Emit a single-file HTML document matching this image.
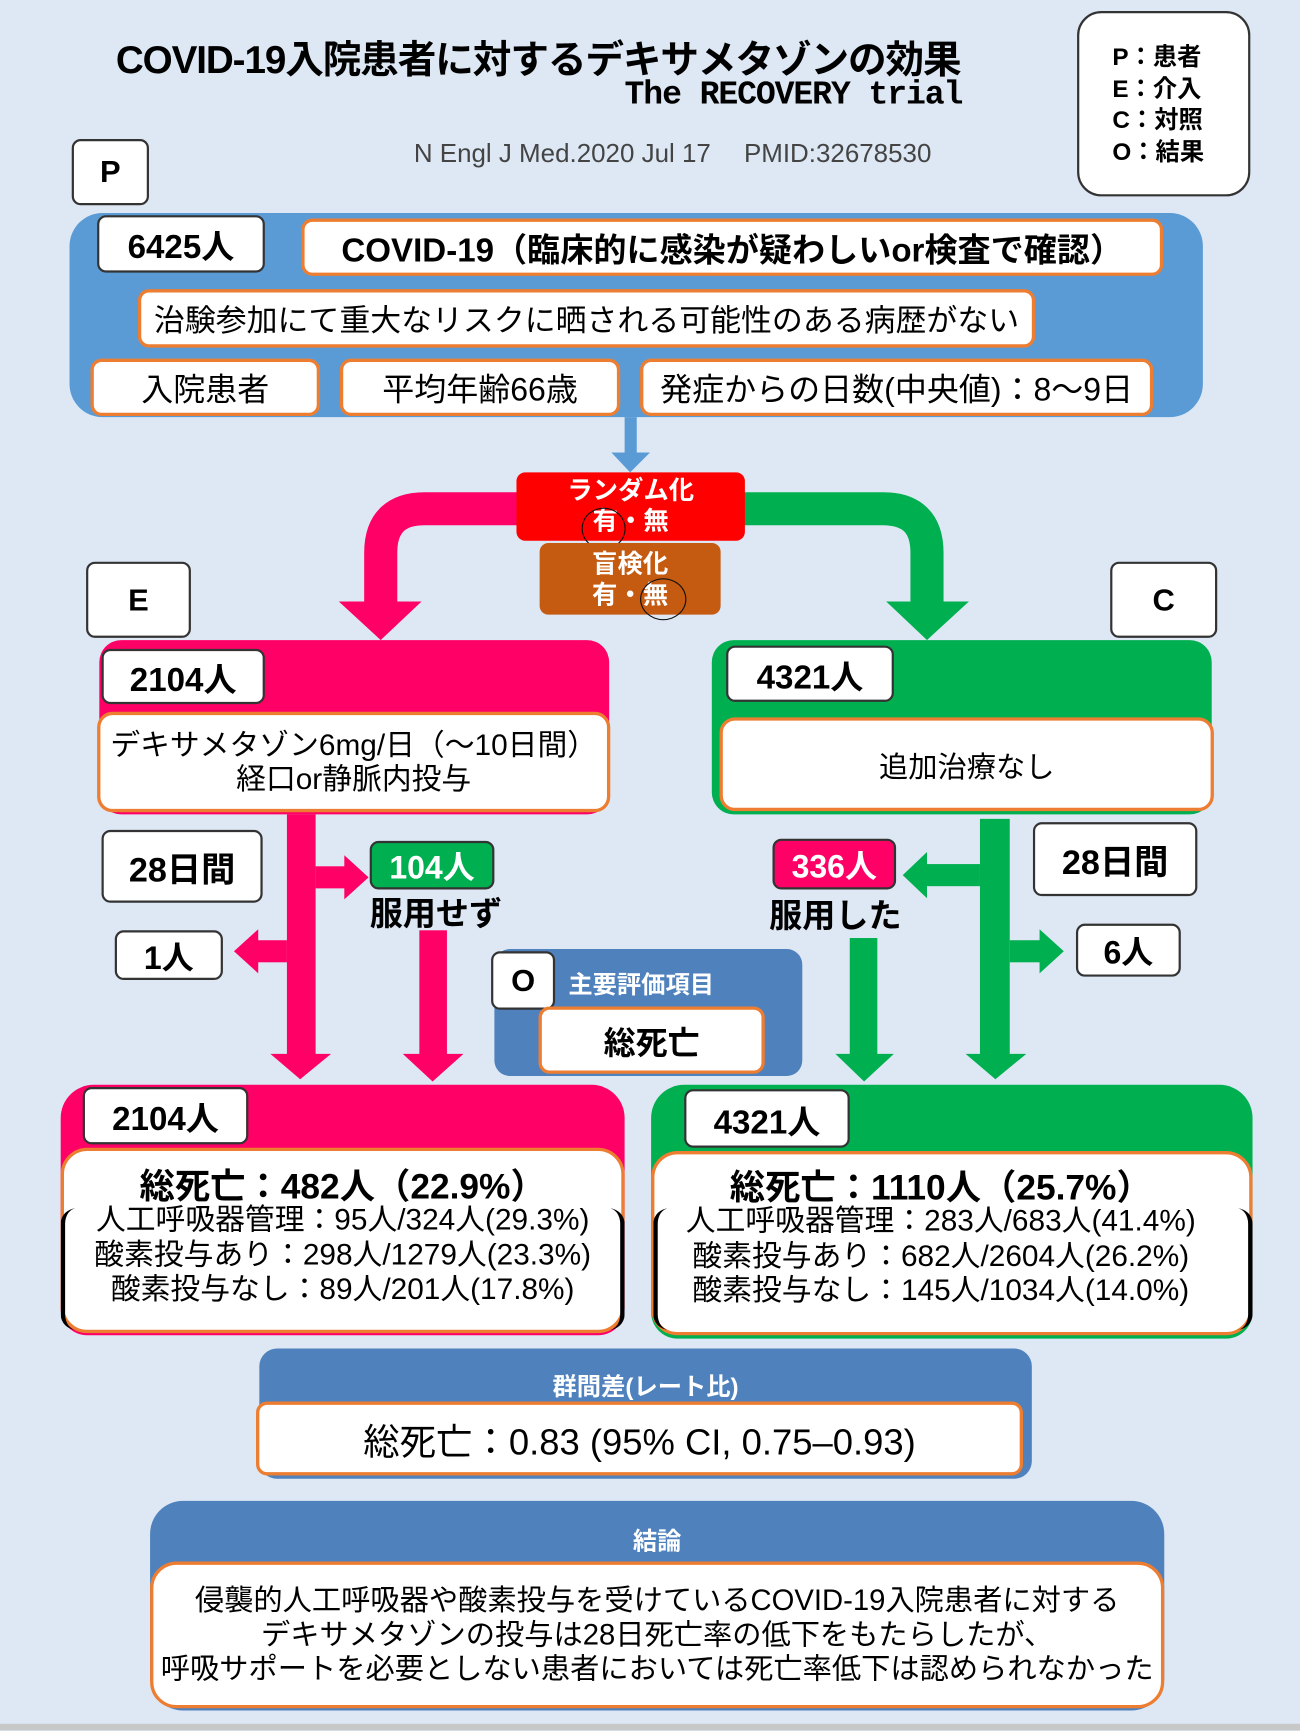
<!DOCTYPE html>
<html><head><meta charset="utf-8">
<style>
html,body{margin:0;padding:0;width:1300px;height:1731px;overflow:hidden;background:#dde8f4;}
#w{position:absolute;left:0;top:0;width:1178px;height:1568px;transform:scale(1.10356);transform-origin:0 0;font-family:"Liberation Sans","Noto Sans CJK JP",sans-serif;color:#000;}
.a{position:absolute;box-sizing:border-box;}
.wb{background:#fff;border:2px solid #333;border-radius:8px;display:flex;align-items:center;justify-content:center;font-weight:bold;white-space:nowrap;}
.ob{background:#fff;border:3px solid #ed7d31;border-radius:10px;display:flex;align-items:center;justify-content:center;text-align:center;white-space:nowrap;}
.t{position:absolute;white-space:nowrap;}
</style></head><body><div id="w">
<div class="t" style="left:105px;top:26px;font-size:35px;font-weight:bold;letter-spacing:-1px;">COVID-19入院患者に対するデキサメタゾンの効果</div>
<div class="t" style="left:560px;top:70px;width:312px;text-align:right;font-size:30px;font-weight:bold;font-family:'Liberation Mono',monospace;letter-spacing:-1px;">The RECOVERY trial</div>
<div class="t" style="left:375px;top:120px;font-size:23.5px;color:#444;">N Engl J Med.2020 Jul 17　 PMID:32678530</div>
<div class="a" style="left:976px;top:10px;width:157px;height:168px;background:#fff;border:2px solid #333;border-radius:22px;"></div>
<div class="t" style="left:1008px;top:38px;font-size:22px;font-weight:bold;line-height:28.5px;">P：患者<br>E：介入<br>C：対照<br>O：結果</div>
<div class="a wb" style="left:65px;top:126px;width:70px;height:60px;font-size:28px;">P</div>

<div class="a" style="left:63px;top:193px;width:1027px;height:185px;background:#5b9bd5;border-radius:30px;"></div>
<div class="a wb" style="left:88px;top:195px;width:152px;height:52px;font-size:30px;">6425人</div>
<div class="a ob" style="left:273px;top:198px;width:781px;height:52px;font-size:30px;font-weight:bold;">COVID-19（臨床的に感染が疑わしいor検査で確認）</div>
<div class="a ob" style="left:125px;top:262px;width:813px;height:53px;font-size:28px;">治験参加にて重大なリスクに晒される可能性のある病歴がない</div>
<div class="a ob" style="left:82px;top:325px;width:208px;height:52px;font-size:29px;">入院患者</div>
<div class="a ob" style="left:308px;top:325px;width:254px;height:52px;font-size:29px;">平均年齢66歳</div>
<div class="a ob" style="left:580px;top:325px;width:465px;height:52px;font-size:29px;">発症からの日数(中央値)：8～9日</div>

<svg class="a" style="left:0;top:0" width="1178" height="1568">
<rect x="566" y="378" width="11" height="34" fill="#5b9bd5"/>
<polygon points="554,410 589,410 571,428" fill="#5b9bd5"/>
<path d="M470,461 H385 Q345,461 345,501 V550" stroke="#ff0066" stroke-width="30" fill="none"/>
<polygon points="307,545 382,545 345,580" fill="#ff0066"/>
<path d="M672,461 H800 Q840,461 840,501 V550" stroke="#00b050" stroke-width="30" fill="none"/>
<polygon points="803,545 878,545 840,580" fill="#00b050"/>
<rect x="260" y="738" width="26" height="222" fill="#ff0066"/>
<polygon points="245,955 300,955 272,978" fill="#ff0066"/>
<rect x="286" y="785" width="30" height="20" fill="#ff0066"/>
<polygon points="312,775 312,815 334,795" fill="#ff0066"/>
<rect x="230" y="852" width="30" height="20" fill="#ff0066"/>
<polygon points="234,842 234,882 212,862" fill="#ff0066"/>
<rect x="380" y="843" width="25" height="115" fill="#ff0066"/>
<polygon points="365,955 420,955 392,980" fill="#ff0066"/>
<rect x="888" y="742" width="27" height="218" fill="#00b050"/>
<polygon points="875,955 930,955 902,978" fill="#00b050"/>
<rect x="838" y="783" width="50" height="20" fill="#00b050"/>
<polygon points="840,772 840,814 818,793" fill="#00b050"/>
<rect x="915" y="852" width="30" height="20" fill="#00b050"/>
<polygon points="942,842 942,882 964,862" fill="#00b050"/>
<rect x="770" y="850" width="25" height="108" fill="#00b050"/>
<polygon points="757,955 810,955 783,980" fill="#00b050"/>
</svg>

<div class="a" style="left:468px;top:428px;width:207px;height:62px;background:#ff0000;border-radius:8px;"></div>
<div class="t" style="left:468px;top:430px;width:207px;text-align:center;color:#fff;font-weight:bold;font-size:23px;line-height:28px;">ランダム化<br>有・無</div>
<div class="a" style="left:527px;top:460px;width:40px;height:38px;border:1.5px solid #111;border-radius:50%;"></div>
<div class="a" style="left:489px;top:492px;width:164px;height:65px;background:#c55a11;border-radius:8px;"></div>
<div class="t" style="left:489px;top:497px;width:164px;text-align:center;color:#fff;font-weight:bold;font-size:23px;line-height:28px;">盲検化<br>有・無</div>
<div class="a" style="left:580px;top:524px;width:42px;height:38px;border:1.5px solid #111;border-radius:50%;"></div>

<div class="a wb" style="left:78px;top:509px;width:95px;height:69px;font-size:28px;">E</div>
<div class="a wb" style="left:1006px;top:509px;width:97px;height:69px;font-size:28px;">C</div>

<div class="a" style="left:90px;top:580px;width:462px;height:158px;background:#ff0066;border-radius:20px;"></div>
<div class="a wb" style="left:92px;top:588px;width:148px;height:50px;font-size:30px;">2104人</div>
<div class="a ob" style="left:88px;top:645px;width:465px;height:91px;font-size:27px;line-height:31px;border-radius:14px;">デキサメタゾン6mg/日（～10日間）<br>経口or静脈内投与</div>
<div class="a" style="left:645px;top:580px;width:453px;height:158px;background:#00b050;border-radius:20px;"></div>
<div class="a wb" style="left:658px;top:585px;width:152px;height:51px;font-size:30px;">4321人</div>
<div class="a ob" style="left:652px;top:650px;width:448px;height:85px;font-size:26.5px;border-radius:14px;">追加治療なし</div>

<div class="a wb" style="left:92px;top:752px;width:146px;height:66px;font-size:31px;">28日間</div>
<div class="a wb" style="left:936px;top:745px;width:149px;height:67px;font-size:31px;">28日間</div>
<div class="a wb" style="left:335px;top:762px;width:113px;height:44px;font-size:29px;background:#00b050;color:#fff;">104人</div>
<div class="t" style="left:335px;top:803px;font-size:30px;font-weight:bold;">服用せず</div>
<div class="a wb" style="left:700px;top:760px;width:112px;height:46px;font-size:29px;background:#ff0066;color:#fff;">336人</div>
<div class="t" style="left:697px;top:805px;font-size:30px;font-weight:bold;">服用した</div>
<div class="a wb" style="left:104px;top:843px;width:98px;height:45px;font-size:29px;">1人</div>
<div class="a wb" style="left:975px;top:837px;width:95px;height:48px;font-size:29px;">6人</div>

<div class="a" style="left:448px;top:860px;width:279px;height:115px;background:#4f81bd;border-radius:14px;"></div>
<div class="a wb" style="left:445px;top:862px;width:58px;height:53px;font-size:28px;">O</div>
<div class="t" style="left:515px;top:875px;font-size:22px;font-weight:bold;color:#fff;">主要評価項目</div>
<div class="a ob" style="left:488px;top:912px;width:205px;height:61px;font-size:29px;font-weight:bold;">総死亡</div>

<div class="a" style="left:55px;top:983px;width:511px;height:227px;background:#ff0066;border-radius:30px 30px 24px 24px;"></div>
<div class="a wb" style="left:75px;top:985px;width:150px;height:52px;font-size:30px;">2104人</div>
<div class="a" style="left:55px;top:1040px;width:511px;height:168px;background:#fff;border:3px solid #ed7d31;border-radius:24px;"></div>
<div class="a" style="left:55px;top:1095px;width:511px;height:110px;border-left:4px solid #000;border-right:4px solid #000;border-radius:14px;"></div>
<div class="t" style="left:55px;top:1050px;width:511px;text-align:center;font-size:32px;font-weight:bold;">総死亡：482人（22.9%）</div>
<div class="t" style="left:55px;top:1090px;width:511px;text-align:center;font-size:27px;line-height:31.5px;">人工呼吸器管理：95人/324人(29.3%)<br>酸素投与あり：298人/1279人(23.3%)<br>酸素投与なし：89人/201人(17.8%)</div>

<div class="a" style="left:590px;top:983px;width:545px;height:230px;background:#00b050;border-radius:30px 30px 24px 24px;"></div>
<div class="a wb" style="left:620px;top:987px;width:150px;height:53px;font-size:30px;">4321人</div>
<div class="a" style="left:590px;top:1043px;width:545px;height:167px;background:#fff;border:3px solid #ed7d31;border-radius:24px;"></div>
<div class="a" style="left:592px;top:1095px;width:543px;height:110px;border-left:4px solid #000;border-right:4px solid #000;border-radius:14px;"></div>
<div class="t" style="left:590px;top:1051px;width:525px;text-align:center;font-size:32px;font-weight:bold;">総死亡：1110人（25.7%）</div>
<div class="t" style="left:590px;top:1091px;width:525px;text-align:center;font-size:27px;line-height:31.5px;">人工呼吸器管理：283人/683人(41.4%)<br>酸素投与あり：682人/2604人(26.2%)<br>酸素投与なし：145人/1034人(14.0%)</div>

<div class="a" style="left:235px;top:1222px;width:700px;height:118px;background:#4f81bd;border-radius:16px;"></div>
<div class="t" style="left:235px;top:1239px;width:700px;text-align:center;font-size:22px;font-weight:bold;color:#fff;">群間差(レート比)</div>
<div class="a ob" style="left:232px;top:1270px;width:695px;height:67px;font-size:33px;">総死亡：0.83 (95% CI, 0.75–0.93)</div>

<div class="a" style="left:136px;top:1360px;width:919px;height:190px;background:#4f81bd;border-radius:30px;"></div>
<div class="t" style="left:136px;top:1379px;width:919px;text-align:center;font-size:22px;font-weight:bold;color:#fff;">結論</div>
<div class="a ob" style="left:136px;top:1415px;width:919px;height:133px;font-size:26.5px;line-height:31px;border-radius:24px;">侵襲的人工呼吸器や酸素投与を受けているCOVID-19入院患者に対する<br>デキサメタゾンの投与は28日死亡率の低下をもたらしたが、<br>呼吸サポートを必要としない患者においては死亡率低下は認められなかった</div>
<div class="a" style="left:0;top:1562px;width:1178px;height:6px;background:#c8c8c8;"></div>
</div></body></html>
